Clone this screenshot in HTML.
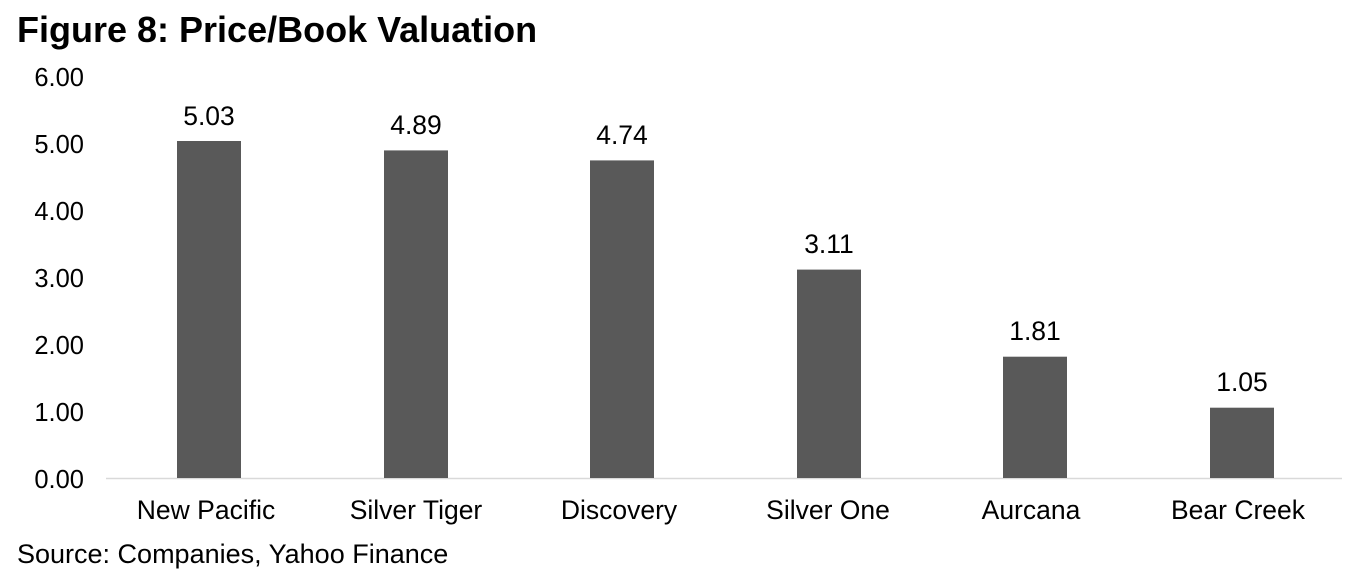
<!DOCTYPE html>
<html><head><style>body{margin:0;background:#fff}svg{display:block}</style></head><body>
<svg width="1365" height="588" xmlns="http://www.w3.org/2000/svg" font-family="Liberation Sans, Arial, sans-serif">
<text x="17" y="42" font-size="36" font-weight="bold" fill="#000">Figure 8: Price/Book Valuation</text>
<g font-size="25.5" fill="#000" text-anchor="end">
<text x="84" y="488">0.00</text>
<text x="84" y="421">1.00</text>
<text x="84" y="354">2.00</text>
<text x="84" y="287">3.00</text>
<text x="84" y="220">4.00</text>
<text x="84" y="153">5.00</text>
<text x="84" y="86">6.00</text>
</g>
<line x1="106" y1="478.5" x2="1342" y2="478.5" stroke="#d9d9d9" stroke-width="1.5"/>
<g fill="#595959">
<rect x="177" y="141" width="64" height="337"/>
<rect x="384" y="150.4" width="64" height="327.6"/>
<rect x="590" y="160.4" width="64" height="317.6"/>
<rect x="797" y="269.6" width="64" height="208.4"/>
<rect x="1003" y="356.7" width="64" height="121.3"/>
<rect x="1210" y="407.7" width="64" height="70.3"/>
</g>
<g font-size="26.5" fill="#000" text-anchor="middle">
<text x="209" y="125">5.03</text>
<text x="416" y="134">4.89</text>
<text x="622" y="144">4.74</text>
<text x="829" y="253">3.11</text>
<text x="1035" y="340">1.81</text>
<text x="1242" y="391">1.05</text>
<text x="206" y="519">New Pacific</text>
<text x="416" y="519">Silver Tiger</text>
<text x="619" y="519">Discovery</text>
<text x="828" y="519">Silver One</text>
<text x="1031" y="519">Aurcana</text>
<text x="1238" y="519">Bear Creek</text>
</g>
<text x="17" y="563" font-size="27" fill="#000">Source: Companies, Yahoo Finance</text>
</svg>
</body></html>
